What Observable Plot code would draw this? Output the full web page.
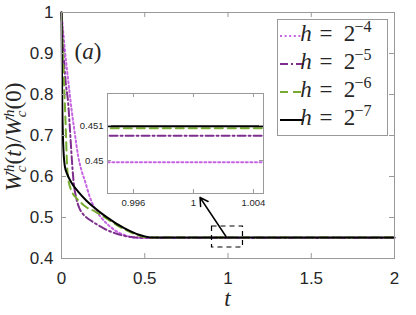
<!DOCTYPE html>
<html><head><meta charset="utf-8">
<script src="https://cdn.jsdelivr.net/npm/d3@7"></script>
<script src="https://cdn.jsdelivr.net/npm/@observablehq/plot@0.6"></script>
<style>
body{margin:0;background:#fff;}
#wrap{position:relative;width:416px;height:315px;overflow:hidden;}
#wrap svg{position:absolute;}
</style></head><body><div id="wrap"></div>
<script>
// ---- data ----
const legendExps = ["\u22124", "\u22125", "\u22126", "\u22127"];
const colors = ["#c764e4", "#7e2f8e", "#77ac30", "#000000"];
const dashes = ["2,2.6", "8,3,2,3", "8,5", "none"];

// h = 2^-4
const t4 = [0, 0.02, 0.04, 0.06, 0.08, 0.1, 0.12, 0.14, 0.17, 0.2, 0.24, 0.28, 0.32, 0.36, 0.4, 0.45, 0.5, 0.55, 2];
const v4 = [1, 0.91, 0.835, 0.765, 0.705, 0.65, 0.615, 0.59, 0.55, 0.522, 0.499, 0.482, 0.469, 0.46, 0.454, 0.4507, 0.4501, 0.44995, 0.44995];
// h = 2^-5
const t5 = [0, 0.012, 0.025, 0.04, 0.05, 0.06, 0.072, 0.09, 0.105, 0.13, 0.16, 0.19, 0.23, 0.27, 0.32, 0.37, 0.42, 0.47, 2];
const v5 = [1, 0.9, 0.83, 0.78, 0.72, 0.655, 0.59, 0.545, 0.525, 0.508, 0.497, 0.489, 0.479, 0.47, 0.462, 0.456, 0.4525, 0.45071, 0.45071];
// h = 2^-6
const t6 = [0, 0.008, 0.018, 0.027, 0.032, 0.042, 0.06, 0.09, 0.12, 0.15, 0.2, 0.25, 0.3, 0.35, 0.4, 0.45, 0.5, 0.55, 2];
const v6 = [1, 0.9, 0.8, 0.7, 0.64, 0.59, 0.565, 0.547, 0.535, 0.525, 0.515, 0.503, 0.49, 0.477, 0.467, 0.458, 0.4525, 0.45092, 0.45092];
// h = 2^-7
const t7 = [0, 0.004, 0.01, 0.02, 0.035, 0.06, 0.1, 0.15, 0.2, 0.25, 0.3, 0.35, 0.4, 0.45, 0.5, 0.55, 2];
const v7 = [1, 0.8, 0.68, 0.625, 0.605, 0.585, 0.563, 0.541, 0.523, 0.507, 0.493, 0.48, 0.469, 0.46, 0.454, 0.45098, 0.45098];

const xTicks = [0, 0.5, 1, 1.5, 2];
const xTickLabels = ["0", "0.5", "1", "1.5", "2"];
const yTicks = [0.4, 0.5, 0.6, 0.7, 0.8, 0.9, 1];
const yTickLabels = ["0.4", "0.5", "0.6", "0.7", "0.8", "0.9", "1"];

const insetXDomain = [0.99427, 1.00467];
const insetYDomain = [0.449057, 0.451914];
const insetXTicks = [0.996, 1, 1.004];
const insetXTickLabels = ["0.996", "1", "1.004"];
const insetYTicks = [0.45, 0.451];
const insetYTickLabels = ["0.45", "0.451"];

const zoomBox = [{x1: 0.904, x2: 1.09, y1: 0.4268, y2: 0.478}];
const zoomArrow = [{x1: 0.988, y1: 0.4537, x2: 0.832, y2: 0.5488}];

// ---- build tables ----
const ts = [t4, t5, t6, t7], vs = [v4, v5, v6, v7];
const series = ts.map((t, i) => t.map((x, j) => ({t: x, v: vs[i][j]})));

const W = 416, H = 315;
const mL = 61, mR = 22, mT = 12, mB = 57;
const innerW = W - mL - mR, innerH = H - mT - mB;
const frameColor = "#999";
const textColor = "#262626";

const lineMarks = (clip) => series.map((d, i) => Plot.line(d, {
  x: "t", y: "v", stroke: colors[i], strokeWidth: 2,
  strokeDasharray: dashes[i] === "none" ? null : dashes[i],
  curve: "monotone-x", clip
}));

const main = Plot.plot({
  width: W, height: H,
  marginLeft: mL, marginRight: mR, marginTop: mT, marginBottom: mB,
  style: {fontFamily: "'Liberation Sans', Arial, sans-serif", color: textColor, background: "transparent"},
  x: {domain: [0, 2]},
  y: {domain: [0.4, 1]},
  marks: [
    Plot.frame({fill: "white", stroke: null}),
    ...lineMarks(false),
    Plot.rect(zoomBox, {x1: "x1", x2: "x2", y1: "y1", y2: "y2", fill: "none", stroke: "black", strokeWidth: 1.2, strokeDasharray: "5,4"}),
    Plot.arrow(zoomArrow, {x1: "x1", y1: "y1", x2: "x2", y2: "y2", stroke: "black", strokeWidth: 1.5, headLength: 9}),
    Plot.frame({stroke: frameColor}),
    Plot.ruleX(xTicks, {stroke: frameColor, insetTop: innerH - 5}),
    Plot.ruleX(xTicks, {stroke: frameColor, insetBottom: innerH - 5}),
    Plot.ruleY(yTicks, {stroke: frameColor, insetRight: innerW - 5}),
    Plot.ruleY(yTicks, {stroke: frameColor, insetLeft: innerW - 5}),
    Plot.axisX({ticks: xTicks, tickSize: 0, tickPadding: 13, fontSize: 17, label: null,
      tickFormat: d => xTickLabels[xTicks.indexOf(d)]}),
    Plot.axisY({ticks: yTicks, tickSize: 0, tickPadding: 8, fontSize: 17, label: null,
      tickFormat: d => yTickLabels[yTicks.indexOf(d)]})
  ]
});
main.style.left = "0px"; main.style.top = "0px";
document.getElementById("wrap").appendChild(main);

// inset
const iL = 35, iT = 5, iR = 10, iB = 25, iW = 156, iH = 100;
const inset = Plot.plot({
  width: iL + iW + iR, height: iT + iH + iB,
  marginLeft: iL, marginRight: iR, marginTop: iT, marginBottom: iB,
  style: {fontFamily: "'Liberation Sans', Arial, sans-serif", color: textColor, background: "transparent", overflow: "visible"},
  x: {domain: insetXDomain},
  y: {domain: insetYDomain},
  marks: [
    Plot.frame({fill: "white", stroke: null}),
    ...lineMarks(true),
    Plot.frame({stroke: frameColor}),
    Plot.ruleX(insetXTicks, {stroke: frameColor, insetTop: iH - 4}),
    Plot.ruleX(insetXTicks, {stroke: frameColor, insetBottom: iH - 4}),
    Plot.ruleY(insetYTicks, {stroke: frameColor, insetRight: iW - 4}),
    Plot.ruleY(insetYTicks, {stroke: frameColor, insetLeft: iW - 4}),
    Plot.axisX({ticks: insetXTicks, tickSize: 0, tickPadding: 6, fontSize: 9.5, label: null,
      tickFormat: d => insetXTickLabels[insetXTicks.indexOf(d)]}),
    Plot.axisY({ticks: insetYTicks, tickSize: 0, tickPadding: 4, fontSize: 9.5, label: null,
      tickFormat: d => insetYTickLabels[insetYTicks.indexOf(d)]})
  ]
});
inset.style.left = (107 - iL) + "px"; inset.style.top = (93 - iT) + "px";
document.getElementById("wrap").appendChild(inset);

// ---- annotations (text) ----
const svg = d3.select(main);
const serif = "'Liberation Serif', 'Times New Roman', serif";

// (a)
const ta = svg.append("text").attr("x", 88).attr("y", 59).attr("font-family", serif).attr("font-size", 23).attr("fill", textColor);
ta.append("tspan").text("(");
ta.append("tspan").attr("font-style", "italic").text("a");
ta.append("tspan").text(")");

// x label
svg.append("text").attr("x", 227.5).attr("y", 306).attr("text-anchor", "middle")
  .attr("font-family", serif).attr("font-style", "italic").attr("font-size", 23).attr("fill", textColor).text("t");

// y label
const yl = svg.append("text").attr("transform", "translate(21,137) rotate(-90)").attr("text-anchor", "middle")
  .attr("font-family", serif).attr("font-size", 23).attr("fill", textColor);
function wch(node) {
  node.append("tspan").attr("font-style", "italic").text("W");
  node.append("tspan").attr("font-style", "italic").attr("font-size", 15).attr("dy", 5).text("c");
  node.append("tspan").attr("font-style", "italic").attr("font-size", 15).attr("dx", -6.5).attr("dy", -12).text("h");
}
wch(yl);
yl.append("tspan").attr("dy", 7).text("(");
yl.append("tspan").attr("font-style", "italic").text("t");
yl.append("tspan").text(")/");
wch(yl);
yl.append("tspan").attr("dy", 7).text("(0)");

// legend
const lg = svg.append("g");
lg.append("rect").attr("x", 277.5).attr("y", 19.5).attr("width", 110).attr("height", 116)
  .attr("fill", "white").attr("stroke", frameColor);
legendExps.forEach((e, i) => {
  const yc = 36 + 28 * i, yb = 40.5 + 28 * i;
  lg.append("line").attr("x1", 280).attr("x2", 304).attr("y1", yc).attr("y2", yc)
    .attr("stroke", colors[i]).attr("stroke-width", 2)
    .attr("stroke-dasharray", dashes[i] === "none" ? null : dashes[i]);
  const tx = lg.append("text").attr("y", yb).attr("font-family", serif).attr("font-size", 23).attr("fill", textColor);
  tx.append("tspan").attr("x", 306).attr("font-style", "italic").text("h");
  tx.append("tspan").attr("x", 326).text("=");
  tx.append("tspan").attr("x", 349.5).text("2");
  tx.append("tspan").attr("x", 363).attr("dy", -9).attr("font-size", 16).text(e);
});
</script></body></html>
